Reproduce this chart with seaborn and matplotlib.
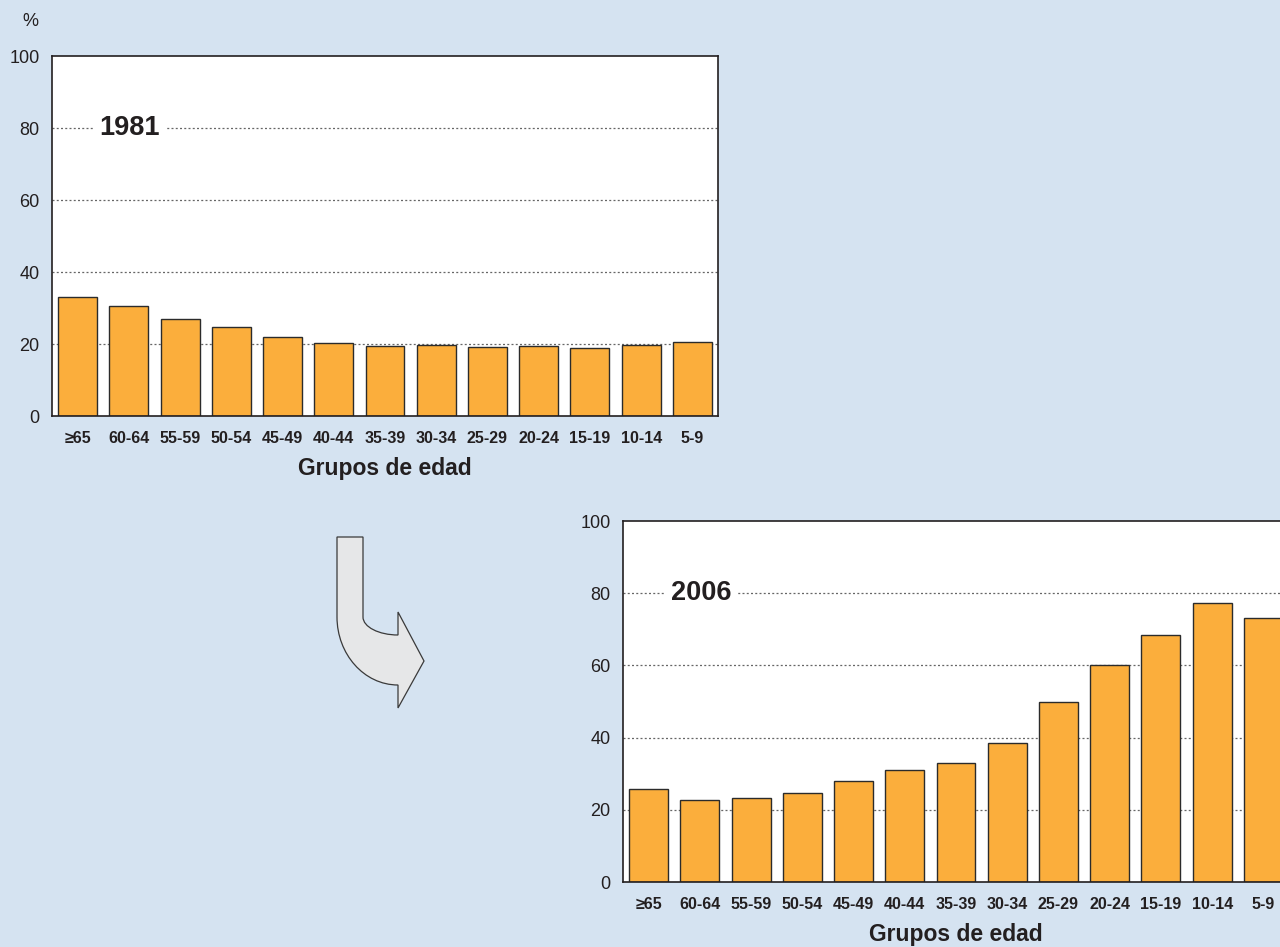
import numpy as np
import pandas as pd
import seaborn as sns
import matplotlib
matplotlib.use("Agg")
import matplotlib.pyplot as plt
from matplotlib.path import Path
from matplotlib.patches import PathPatch

# data
grupos = ["≥65", "60-64", "55-59", "50-54", "45-49", "40-44", "35-39",
          "30-34", "25-29", "20-24", "15-19", "10-14", "5-9"]
pct_1981 = [33.0, 30.5, 27.0, 24.8, 21.9, 20.2, 19.5, 19.6, 19.1, 19.4, 19.0, 19.8, 20.5]
pct_2006 = [25.9, 22.6, 23.2, 24.7, 28.1, 30.9, 33.0, 38.6, 50.0, 60.2, 68.4, 77.3, 73.0]
yticks = [0, 20, 40, 60, 80, 100]

sns.set_theme(style="white")
plt.rcParams["font.family"] = ["Liberation Sans", "DejaVu Sans"]

bg = "#d5e3f1"
bar_col = "#fbae3c"
ink = "#231f20"

fig = plt.figure(figsize=(12.8, 9.47), dpi=100, facecolor=bg)
W, H = 1280, 947


def panel(rect, values, year):
    ax = fig.add_axes(rect)
    ax.set_facecolor("white")
    df = pd.DataFrame({"grupo": grupos, "pct": values})
    sns.barplot(data=df, x="grupo", y="pct", color=bar_col, saturation=1,
                edgecolor="#2b2b2b", linewidth=1.0, width=0.76, ax=ax)
    ax.set_xlim(-0.5, len(grupos) - 0.5)
    ax.set_ylim(0, 100)
    ax.set_yticks(yticks)
    for y in yticks[1:-1]:
        ax.axhline(y, color="#666666", lw=0.9, ls=(0, (1.6, 1.8)), zorder=0.5)
    ax.set_axisbelow(True)
    for s in ax.spines.values():
        s.set_color(ink)
        s.set_linewidth(1.2)
    ax.tick_params(axis="both", length=0)
    ax.tick_params(axis="y", labelsize=13, labelcolor=ink, pad=9)
    ax.tick_params(axis="x", labelsize=11.5, labelcolor=ink, pad=11)
    for t in ax.get_xticklabels():
        t.set_fontweight("bold")
    ax.set_xlabel("Grupos de edad", fontsize=16.5, fontweight="bold", color=ink, labelpad=8)
    ax.set_ylabel("")
    ax.text(1.02, 80, year, fontsize=19.5, fontweight="bold", color=ink,
            ha="center", va="center",
            bbox=dict(facecolor="white", edgecolor="none", pad=5))
    return ax


panel([52 / W, (H - 416) / H, 666 / W, 360 / H], pct_1981, "1981")
panel([623 / W, (H - 882) / H, 666 / W, 361 / H], pct_2006, "2006")

fig.text(30 / W, 1 - 22 / H, "%", fontsize=13, color=ink, ha="center", va="center")

# curved arrow between the panels (pixel coords, y from top)
pts = [(337, 537), (363, 537), (363, 617),
       (363, 627), (379, 635), (398, 635),
       (398, 612), (424, 661), (398, 708), (398, 685),
       (364, 685), (337, 654), (337, 617),
       (337, 537)]
codes = [Path.MOVETO, Path.LINETO, Path.LINETO,
         Path.CURVE4, Path.CURVE4, Path.CURVE4,
         Path.LINETO, Path.LINETO, Path.LINETO, Path.LINETO,
         Path.CURVE4, Path.CURVE4, Path.CURVE4,
         Path.CLOSEPOLY]
verts = [(x / W, 1 - y / H) for x, y in pts]
arrow = PathPatch(Path(verts, codes), facecolor="#e6e7e8", edgecolor="#3a3a3a",
                  lw=0.9, transform=fig.transFigure)
fig.add_artist(arrow)

fig.savefig("out.png", dpi=100, facecolor=bg)
